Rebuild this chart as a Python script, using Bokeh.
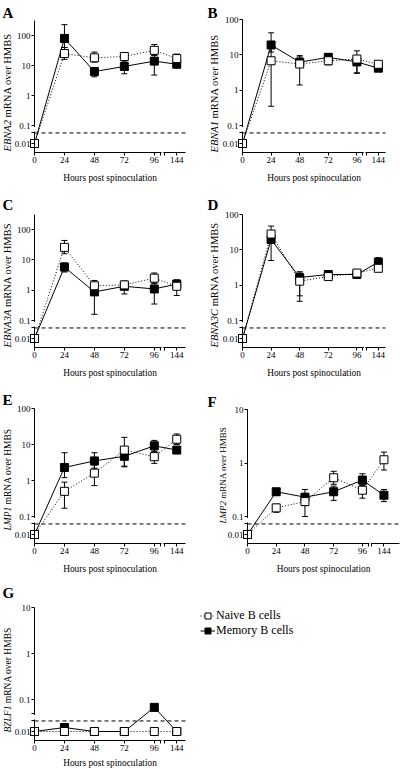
import math
from bokeh.plotting import figure
from bokeh.layouts import column, row
from bokeh.models import (Range1d, LinearAxis, FixedTicker, Label, BoxAnnotation,
                          Whisker, TeeHead, ColumnDataSource, Legend, LegendItem)
from bokeh.embed import file_html
from bokeh.resources import INLINE

# ---------------- data ----------------
TIMES = [0, 24, 48, 72, 96, 144]
X_TICKS = [0, 24, 48, 72, 96, 144]
DETECTION = 0.02          # dashed detection-limit line (inside the axis break)
SERIES_NAMES = ["Naive B cells", "Memory B cells"]

A_GENE = "EBNA2"
A_NAIVE = [0.01, 25, 18, 20, 32, 17]
A_NAIVE_LO = [None, 16, 13, 15, 22, 12]
A_NAIVE_HI = [None, 40, 28, 26, 50, 24]
A_MEM = [0.01, 80, 6.3, 9.3, 14, 11]
A_MEM_LO = [None, 40, 4.2, 5.3, 4.8, 9]
A_MEM_HI = [None, 230, 8.5, 14, 22, 13]

B_GENE = "EBNA1"
B_NAIVE = [0.01, 6.8, 5.5, 6.8, 7.6, 5.4]
B_NAIVE_LO = [None, 0.35, 1.4, 5.2, 3.0, 4.5]
B_NAIVE_HI = [None, 16, 8.7, 9.0, 13, 6.5]
B_MEM = [0.01, 19, 6.2, 8.5, 6.3, 4.2]
B_MEM_LO = [None, 12, 5.0, 7.0, 3.1, 3.8]
B_MEM_HI = [None, 42, 9.5, 10, 9, 4.8]

C_GENE = "EBNA3A"
C_NAIVE = [0.01, 26, 1.4, 1.5, 2.5, 1.35]
C_NAIVE_LO = [None, 16, 1.0, 1.1, 1.7, 0.67]
C_NAIVE_HI = [None, 44, 2.1, 2.0, 3.7, 2.0]
C_MEM = [0.01, 5.8, 0.88, 1.35, 1.1, 1.6]
C_MEM_LO = [None, 4.0, 0.16, 0.75, 0.35, 1.1]
C_MEM_HI = [None, 8.0, 1.3, 1.8, 1.7, 2.2]

D_GENE = "EBNA3C"
D_NAIVE = [0.01, 28, 1.3, 1.75, 2.2, 3.0]
D_NAIVE_LO = [None, 18, 0.5, 1.5, 1.9, 2.6]
D_NAIVE_HI = [None, 47, 2.2, 2.0, 2.6, 3.5]
D_MEM = [0.01, 19.6, 1.65, 2.0, 2.0, 4.5]
D_MEM_LO = [None, 5.0, 0.35, 1.8, 1.7, 3.5]
D_MEM_HI = [None, 35, 2.4, 2.3, 2.4, 6.0]

E_GENE = "LMP1"
E_NAIVE = [0.01, 0.5, 1.6, 7.0, 4.6, 14]
E_NAIVE_LO = [None, 0.17, 0.72, 2.4, 3.0, 10]
E_NAIVE_HI = [None, 0.9, 2.7, 15.8, 6.5, 19.6]
E_MEM = [0.01, 2.3, 3.5, 4.7, 9.2, 7.0]
E_MEM_LO = [None, 1.2, 2.2, 2.5, 6.5, 6.0]
E_MEM_HI = [None, 5.9, 5.9, 7.0, 13, 8.0]

F_GENE = "LMP2"
F_NAIVE = [0.01, 0.145, 0.19, 0.53, 0.31, 1.15]
F_NAIVE_LO = [None, 0.12, 0.10, 0.40, 0.22, 0.74]
F_NAIVE_HI = [None, 0.17, 0.26, 0.70, 0.38, 1.6]
F_MEM = [0.01, 0.29, 0.23, 0.29, 0.48, 0.25]
F_MEM_LO = [None, 0.25, 0.16, 0.20, 0.40, 0.19]
F_MEM_HI = [None, 0.31, 0.32, 0.37, 0.63, 0.32]

G_GENE = "BZLF1"
G_NAIVE = [0.01, 0.01, 0.01, 0.01, 0.01, 0.01]
G_NAIVE_LO = [None, None, None, None, None, None]
G_NAIVE_HI = [None, None, None, None, None, None]
G_MEM = [0.01, 0.013, 0.01, 0.01, 0.068, 0.01]
G_MEM_LO = [None, None, None, None, 0.057, None]
G_MEM_HI = [None, None, None, None, 0.075, None]

# ---------------- layout / style ----------------
FONT = "Liberation Serif"
W = 200
FIG_H = [195, 195, 190, 189]
BREAK = (101, 104)
NAIVE_DASH = "1 2"
ITALIC_W = {"E": .611, "B": .611, "N": .667, "A": .611, "1": .5, "2": .5, "3": .5,
            "C": .667, "L": .556, "M": .833, "P": .611, "Z": .556, "F": .611}

CFG = {
    "A": dict(row=0, top=2.5, low=0.1, yax=34, xend=185, end_h=121, ax_top=20, ax_bot=152,
              lab_cx=7, lab_bot=151, fs=10.5, let_x=2, let_top=4, tit=25),
    "B": dict(row=0, top=2, low=0.1, yax=42, xend=185, end_h=120, ax_top=19, ax_bot=152,
              lab_cx=14, lab_bot=152, fs=10.5, let_x=7, let_top=4, tit=25),
    "C": dict(row=1, top=2.5, low=0.1, yax=34, xend=185, end_h=121, ax_top=19, ax_bot=152,
              lab_cx=7, lab_bot=152, fs=10.5, let_x=2, let_top=1, tit=25),
    "D": dict(row=1, top=2, low=0.1, yax=42, xend=185, end_h=120, ax_top=19, ax_bot=152,
              lab_cx=14, lab_bot=152, fs=10.5, let_x=7, let_top=1, tit=25),
    "E": dict(row=2, top=2, low=0.1, yax=34, xend=185, end_h=121, ax_top=18, ax_bot=153,
              lab_cx=7, lab_bot=140, fs=9.5, let_x=2, let_top=1, tit=25),
    "F": dict(row=2, top=1, low=0.1, yax=47, xend=199, end_h=127, ax_top=19, ax_bot=153,
              lab_cx=22, lab_bot=133, fs=9, let_x=7, let_top=3, tit=25),
    "G": dict(row=3, top=1, low=0.05, yax=34, xend=185, end_h=121, ax_top=27, ax_bot=160,
              lab_cx=7, lab_bot=152, fs=9.5, let_x=2, let_top=4, tit=22.5),
}
LEGEND_TOP = 28


def xpos(t):
    return t if t <= 96 else 96 + (t - 96) * 18 / 48


def panel(letter, gene, naive, naive_lo, naive_hi, mem, mem_lo, mem_hi):
    c = CFG[letter]
    H = FIG_H[c["row"]]
    top_log = c["top"]
    low_val = c["low"]
    low_log = round(math.log10(low_val), 12)
    d = (c["ax_bot"] - 27 - c["ax_top"]) / (top_log - low_log)   # px per decade

    def ty(v):
        if v >= low_val * 0.999:
            return math.log10(v)
        off = 18 - (math.log10(v) + 2) * 35
        return low_log - off / d

    t_b = low_log - 27 / d
    t_dash = ty(DETECTION)
    t_001 = ty(0.01)
    yax = c["yax"]
    end_h = c["end_h"]
    pxh = (c["xend"] - yax) / end_h
    # frame = whole figure, so that nothing is clipped
    x0 = -yax / pxh
    x1 = x0 + W / pxh
    y0 = t_b - (H - c["ax_bot"]) / d
    y1 = top_log + c["ax_top"] / d

    p = figure(width=W, height=H, x_range=Range1d(x0, x1), y_range=Range1d(y0, y1),
               x_axis_type=None, y_axis_type=None, output_backend="svg",
               toolbar_location=None, min_border=0, outline_line_color=None,
               title=None, background_fill_color="white", border_fill_color="white")

    style = dict(axis_line_color="black", axis_line_width=1, major_tick_line_color="black",
                 major_tick_out=3, major_tick_in=0, minor_tick_line_color=None,
                 major_label_text_font=FONT, major_label_text_font_size="9px",
                 major_label_text_color="black", major_label_standoff=1)

    xt = [xpos(t) for t in X_TICKS] + list(BREAK)
    xover = {xpos(t): str(t) for t in X_TICKS}
    xover[BREAK[0]] = ""
    xover[BREAK[1]] = ""
    xa = LinearAxis(fixed_location=t_b, bounds=(0, end_h), ticker=FixedTicker(ticks=xt),
                    major_label_overrides=xover, **style)
    p.add_layout(xa, "below")

    decs = [k for k in range(math.ceil(low_log), math.floor(top_log) + 1)]
    yt = [t_dash, t_001] + sorted(set([low_log] + [float(k) for k in decs]))
    yover = {t_dash: "", t_001: "0.01"}
    for t in yt[2:]:
        yover[t] = f"{10 ** t:g}" if float(t).is_integer() else ""
    ya = LinearAxis(fixed_location=0, bounds=(t_b, top_log), ticker=FixedTicker(ticks=yt),
                    major_label_overrides=yover, **style)
    p.add_layout(ya, "left")

    # axis breaks
    p.add_layout(BoxAnnotation(left=-1.6 / pxh, right=1.6 / pxh, bottom=t_dash + 1.5 / d,
                               top=low_log - 1.5 / d, fill_color="white", fill_alpha=1,
                               line_color=None))
    p.add_layout(BoxAnnotation(left=BREAK[0] + 1 / pxh, right=BREAK[1] - 1 / pxh,
                               bottom=t_b - 1.5 / d, top=t_b + 1.5 / d, fill_color="white",
                               fill_alpha=1, line_color=None))

    # detection line
    p.line([0, end_h], [t_dash, t_dash], line_dash="4 3", line_color="black", line_width=1)

    xs = [xpos(t) for t in TIMES]
    specs = [(mem, mem_lo, mem_hi, "solid", "black"),
             (naive, naive_lo, naive_hi, NAIVE_DASH, "white")]
    for vals, lo, hi, dash, fill in specs:
        bx, bl, bh = [], [], []
        for x, v, l, h in zip(xs, vals, lo, hi):
            if l is None and h is None:
                continue
            bx.append(x)
            bl.append(ty(l if l is not None else v))
            bh.append(ty(h if h is not None else v))
        if bx:
            src = ColumnDataSource(dict(x=bx, lo=bl, hi=bh))
            p.add_layout(Whisker(source=src, base="x", lower="lo", upper="hi",
                                 dimension="height", line_color="black", line_width=1,
                                 upper_head=TeeHead(size=6, line_color="black", line_width=1),
                                 lower_head=TeeHead(size=6, line_color="black", line_width=1)))
        p.line(xs, [ty(v) for v in vals], line_color="black", line_width=1, line_dash=dash)
    for vals, lo, hi, dash, fill in specs:
        p.scatter(xs, [ty(v) for v in vals], marker="square", size=8, fill_color=fill,
                  line_color="black", line_width=1)

    # texts (screen units measured from the frame's bottom-left = figure's bottom-left)
    p.add_layout(Label(x=c["let_x"], y=H - c["let_top"], x_units="screen", y_units="screen",
                       text=letter, text_font=FONT, text_font_style="bold",
                       text_font_size="15px", text_color="black",
                       text_baseline="top", text_align="left"))
    fs = c["fs"]
    lx = c["lab_cx"]
    ly = H - c["lab_bot"]
    it_w = sum(ITALIC_W[ch] for ch in gene) * fs + 0.25 * fs
    p.add_layout(Label(x=lx, y=ly, x_units="screen", y_units="screen", text=gene,
                       angle=math.pi / 2, text_font=FONT, text_font_style="italic",
                       text_font_size=f"{fs:.2f}px", text_baseline="middle",
                       text_align="left", text_color="black"))
    p.add_layout(Label(x=lx, y=ly + it_w, x_units="screen", y_units="screen",
                       text="mRNA over HMBS", angle=math.pi / 2, text_font=FONT,
                       text_font_size=f"{fs:.2f}px", text_baseline="middle",
                       text_align="left", text_color="black"))
    p.add_layout(Label(x=end_h / 2, y=H - (c["ax_bot"] + c["tit"]), x_units="data",
                       y_units="screen", text="Hours post spinoculation", text_font=FONT,
                       text_font_size="9.4px", text_align="center",
                       text_baseline="middle", text_color="black"))
    return p


pa = panel("A", A_GENE, A_NAIVE, A_NAIVE_LO, A_NAIVE_HI, A_MEM, A_MEM_LO, A_MEM_HI)
pb = panel("B", B_GENE, B_NAIVE, B_NAIVE_LO, B_NAIVE_HI, B_MEM, B_MEM_LO, B_MEM_HI)
pc = panel("C", C_GENE, C_NAIVE, C_NAIVE_LO, C_NAIVE_HI, C_MEM, C_MEM_LO, C_MEM_HI)
pd = panel("D", D_GENE, D_NAIVE, D_NAIVE_LO, D_NAIVE_HI, D_MEM, D_MEM_LO, D_MEM_HI)
pe = panel("E", E_GENE, E_NAIVE, E_NAIVE_LO, E_NAIVE_HI, E_MEM, E_MEM_LO, E_MEM_HI)
pf = panel("F", F_GENE, F_NAIVE, F_NAIVE_LO, F_NAIVE_HI, F_MEM, F_MEM_LO, F_MEM_HI)
pg = panel("G", G_GENE, G_NAIVE, G_NAIVE_LO, G_NAIVE_HI, G_MEM, G_MEM_LO, G_MEM_HI)

# legend panel: frame = whole figure (so the row's frames stay aligned)
NAN = [float("nan")]
LH = FIG_H[3]
lp = figure(width=W, height=LH, x_range=Range1d(0, 1), y_range=Range1d(0, 1),
            x_axis_type=None, y_axis_type=None, output_backend="svg", toolbar_location=None,
            min_border=0, outline_line_color=None, title=None)
r1 = lp.line(x=NAN, y=NAN, line_dash=NAIVE_DASH, line_color="black", line_width=1)
r2 = lp.scatter(x=NAN, y=NAN, marker="square", size=8, fill_color="white", line_color="black")
r3 = lp.line(x=NAN, y=NAN, line_color="black", line_width=1)
r4 = lp.scatter(x=NAN, y=NAN, marker="square", size=8, fill_color="black", line_color="black")
leg = Legend(items=[LegendItem(label=SERIES_NAMES[0], renderers=[r1, r2]),
                    LegendItem(label=SERIES_NAMES[1], renderers=[r3, r4])],
             location=(0, LH - LEGEND_TOP - 30), orientation="vertical",
             glyph_width=15, glyph_height=15,
             label_height=15, label_standoff=1, spacing=0, padding=0, margin=0,
             border_line_alpha=0, background_fill_alpha=0, label_text_font=FONT,
             label_text_font_size="12px", label_text_color="black")
lp.add_layout(leg)

layout = column(row(pa, pb), row(pc, pd), row(pe, pf), row(pg, lp))
open("out.html", "w").write(file_html(layout, INLINE))
